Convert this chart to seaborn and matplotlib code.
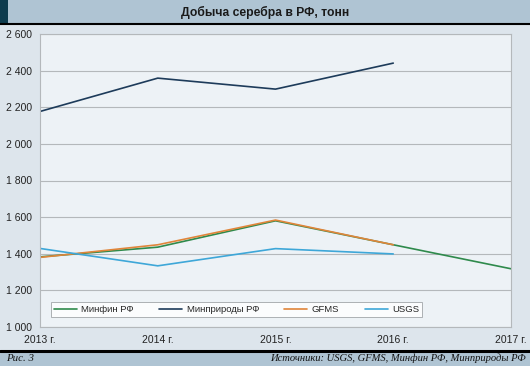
import pandas as pd
import matplotlib.pyplot as plt
import matplotlib.ticker as ticker
import seaborn as sns

# Data (tonnes of silver mined in Russia)
years = [2013, 2014, 2015, 2016, 2017]
year_labels = ["2013 г.", "2014 г.", "2015 г.", "2016 г.", "2017 г."]
minfin = [1383, 1436, 1580, 1449, 1318]
minprirody = [2177, 2359, 2299, 2441, None]
gfms = [1380, 1449, 1584, 1449, None]
usgs = [1429, 1334, 1428, 1399, None]

series_names = ["Минфин РФ", "Минприроды РФ", "GFMS", "USGS"]
colors = ["#2f8a4c", "#1d3b5a", "#e0853a", "#3ea7d8"]

rows = []
for name, vals in zip(series_names, [minfin, minprirody, gfms, usgs]):
    for y, v in zip(years, vals):
        if v is not None:
            rows.append({"year": y, "value": v, "source": name})
df = pd.DataFrame(rows)

sns.set_theme(style="white")
plt.rcParams["font.family"] = ["Liberation Sans", "DejaVu Sans"]

outer_bg = "#dde5ec"
band_bg = "#afc4d3"
plot_bg = "#edf2f6"
grid_c = "#b4b8bb"

fig = plt.figure(figsize=(5.30, 3.66), dpi=100)
fig.patch.set_facecolor(outer_bg)

# title band and caption band
fig.add_artist(plt.Rectangle((0, 1 - 23 / 366), 1, 23 / 366, transform=fig.transFigure,
                             facecolor=band_bg, edgecolor="none", zorder=0))
fig.add_artist(plt.Rectangle((0, 1 - 23 / 366), 8 / 530, 23 / 366, transform=fig.transFigure,
                             facecolor="#0e3c4e", edgecolor="none", zorder=1))
fig.add_artist(plt.Line2D([0, 1], [1 - 23.5 / 366] * 2, transform=fig.transFigure,
                          color="black", linewidth=1.5))
fig.add_artist(plt.Rectangle((0, 0), 1, 15 / 366, transform=fig.transFigure,
                             facecolor=band_bg, edgecolor="none", zorder=0))
fig.add_artist(plt.Line2D([0, 1], [15.5 / 366] * 2, transform=fig.transFigure,
                          color="black", linewidth=2.2))

fig.text(0.5, 1 - 12 / 366, "Добыча серебра в РФ, тонн", ha="center", va="center",
         fontsize=8.7, fontweight="bold", color="#1a1a1a")
fig.text(6 / 530, 7.5 / 366, "Рис. 3", ha="left", va="center", fontsize=7.8,
         fontstyle="italic", family="Liberation Serif", color="#111111")
fig.text(526 / 530, 7.5 / 366, "Источники: USGS, GFMS, Минфин РФ, Минприроды РФ",
         ha="right", va="center", fontsize=7.6, fontstyle="italic",
         family="Liberation Serif", color="#111111")

ax = fig.add_axes([40 / 530, 1 - 327 / 366, 471 / 530, 293 / 366])
ax.set_facecolor(plot_bg)

sns.lineplot(data=df, x="year", y="value", hue="source", hue_order=series_names,
             palette=colors, linewidth=1.2, ax=ax, sort=False)

ax.set_xlim(2013, 2017)
ax.set_ylim(1000, 2600)
ax.set_xticks(years)
ax.set_xticklabels(year_labels)
ax.yaxis.set_major_locator(ticker.MultipleLocator(200))
ax.yaxis.set_major_formatter(ticker.FuncFormatter(lambda x, pos: f"{x:,.0f}".replace(",", " ")))
ax.grid(axis="y", color=grid_c, linewidth=0.8)
ax.set_axisbelow(True)
ax.set_xlabel("")
ax.set_ylabel("")

for side in ["left", "bottom", "right", "top"]:
    ax.spines[side].set_color(grid_c)
    ax.spines[side].set_linewidth(0.8)
ax.tick_params(axis="both", which="major", direction="out", length=4, width=0.8,
               color="#8a8e91", labelsize=7.5, labelcolor="#222222", pad=2)

leg = ax.legend(loc="lower left", bbox_to_anchor=(11 / 471, 10 / 293), ncol=4,
                frameon=True, fancybox=False, fontsize=6.8, handlelength=2.4,
                columnspacing=2.7, handletextpad=0.5, borderpad=0.3,
                edgecolor="#9a9ea2", borderaxespad=0)
leg.get_frame().set_facecolor("white")
leg.get_frame().set_linewidth(0.7)

fig.savefig("out.png", dpi=100, facecolor=fig.get_facecolor())
